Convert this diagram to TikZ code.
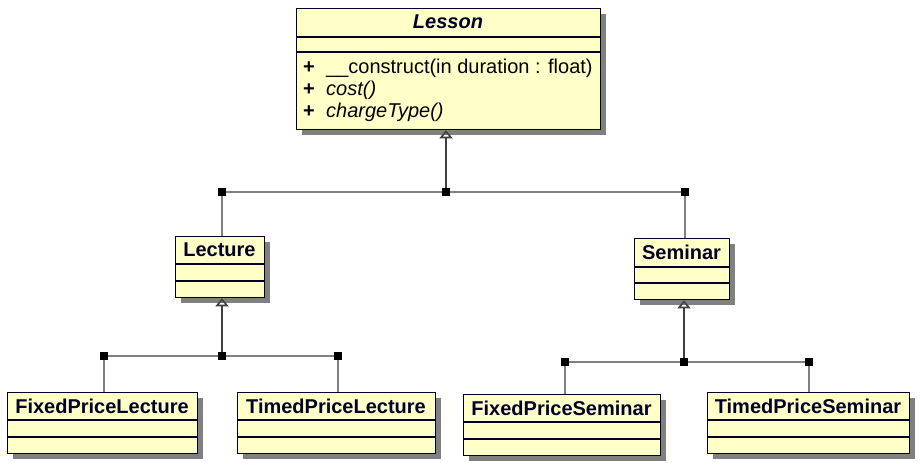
\documentclass[tikz,border=0pt]{standalone}
\usepackage{fontspec}
\setmainfont{Liberation Sans}
\usetikzlibrary{shadows,arrows.meta}

\definecolor{umlfill}{RGB}{255,255,200}
\definecolor{umlline}{RGB}{0,0,40}
\definecolor{linkgray}{RGB}{128,128,128}
\definecolor{arrowgray}{RGB}{64,64,64}

\begin{document}
\begin{tikzpicture}[x=1pt, y=-1pt,
    font=\fontsize{20}{22}\selectfont,
    classbox/.style={draw=umlline, line width=1.3pt, fill=umlfill, anchor=north west,
      inner sep=0pt, minimum height=61pt,
      drop shadow={shadow xshift=5pt, shadow yshift=-5pt, fill=linkgray, opacity=1}},
    sepline/.style={draw=umlline, line width=1.1pt},
    title/.style={font=\fontsize{20}{22}\selectfont\bfseries, text=umlline},
    member/.style={anchor=base west, inner sep=0pt, text=black},
    junction/.style={fill=black, minimum size=8.5pt, inner sep=0pt},
    link/.style={draw=linkgray, line width=1.6pt},
    inherit/.style={draw=arrowgray, line width=1.6pt, -{Triangle[open, length=8pt, width=13pt]}}]
    \useasboundingbox (0,0) rectangle (921,463);

    % Nodes
    \node[classbox, minimum width=304pt, minimum height=121pt] (lesson) at (296,8) {};
    \draw[sepline] (296,37) -- (600,37);
    \draw[sepline] (296,52) -- (600,52);
    \node[title, font=\fontsize{20}{22}\selectfont\bfseries\itshape] (lessonname) at (448,22) {Lesson};
    \node[member] (plusa) at (303,73) {\textbf{+}};
    \node[member] (construct) at (326,73) {\_\_construct(in duration : float)};
    \node[member] (plusb) at (303,95) {\textbf{+}};
    \node[member] (cost) at (326,95) {\textit{cost()}};
    \node[member] (plusc) at (303,117) {\textbf{+}};
    \node[member] (charge) at (326,117) {\textit{chargeType()}};

    \node[classbox, minimum width=89pt] (lecture) at (175,236) {};
    \draw[sepline] (175,264) -- (264,264);
    \draw[sepline] (175,281) -- (264,281);
    \node[title] (lecturename) at (219.5,250) {Lecture};

    \node[classbox, minimum width=95pt] (seminar) at (634,238) {};
    \draw[sepline] (634,267) -- (729,267);
    \draw[sepline] (634,283) -- (729,283);
    \node[title] (seminarname) at (681.5,252) {Seminar};

    \node[classbox, minimum width=190pt] (fixedlecture) at (7,392) {};
    \draw[sepline] (7,420) -- (197,420);
    \draw[sepline] (7,437) -- (197,437);
    \node[title] (fixedlecturename) at (102,406) {FixedPriceLecture};

    \node[classbox, minimum width=198pt] (timedlecture) at (237,392) {};
    \draw[sepline] (237,420) -- (435,420);
    \draw[sepline] (237,437) -- (435,437);
    \node[title] (timedlecturename) at (336,406) {TimedPriceLecture};

    \node[classbox, minimum width=197pt] (fixedseminar) at (463,394) {};
    \draw[sepline] (463,422) -- (660,422);
    \draw[sepline] (463,439) -- (660,439);
    \node[title] (fixedseminarname) at (561.5,408) {FixedPriceSeminar};

    \node[classbox, minimum width=202pt] (timedseminar) at (707,392) {};
    \draw[sepline] (707,420) -- (909,420);
    \draw[sepline] (707,437) -- (909,437);
    \node[title] (timedseminarname) at (808,406) {TimedPriceSeminar};

    % Junctions
    \node[junction] (jtop) at (446,192) {};
    \node[junction] (jtopl) at (222,192) {};
    \node[junction] (jtopr) at (685,192) {};
    \node[junction] (jlec) at (222,356) {};
    \node[junction] (jlecl) at (104,356) {};
    \node[junction] (jlecr) at (338,356) {};
    \node[junction] (jsem) at (684,362) {};
    \node[junction] (jseml) at (565,362) {};
    \node[junction] (jsemr) at (809,362) {};

    % Edges
    \draw[link] (jtopl) -- (jtop) -- (jtopr);
    \draw[link] (jtopl) -- (jtopl |- lecture.north);
    \draw[link] (jtopr) -- (jtopr |- seminar.north);
    \draw[inherit] (jtop) -- (jtop |- lesson.south);

    \draw[link] (jlecl) -- (jlec) -- (jlecr);
    \draw[link] (jlecl) -- (jlecl |- fixedlecture.north);
    \draw[link] (jlecr) -- (jlecr |- timedlecture.north);
    \draw[inherit] (jlec) -- (jlec |- lecture.south);

    \draw[link] (jseml) -- (jsem) -- (jsemr);
    \draw[link] (jseml) -- (jseml |- fixedseminar.north);
    \draw[link] (jsemr) -- (jsemr |- timedseminar.north);
    \draw[inherit] (jsem) -- (jsem |- seminar.south);
  \end{tikzpicture}
\end{document}
